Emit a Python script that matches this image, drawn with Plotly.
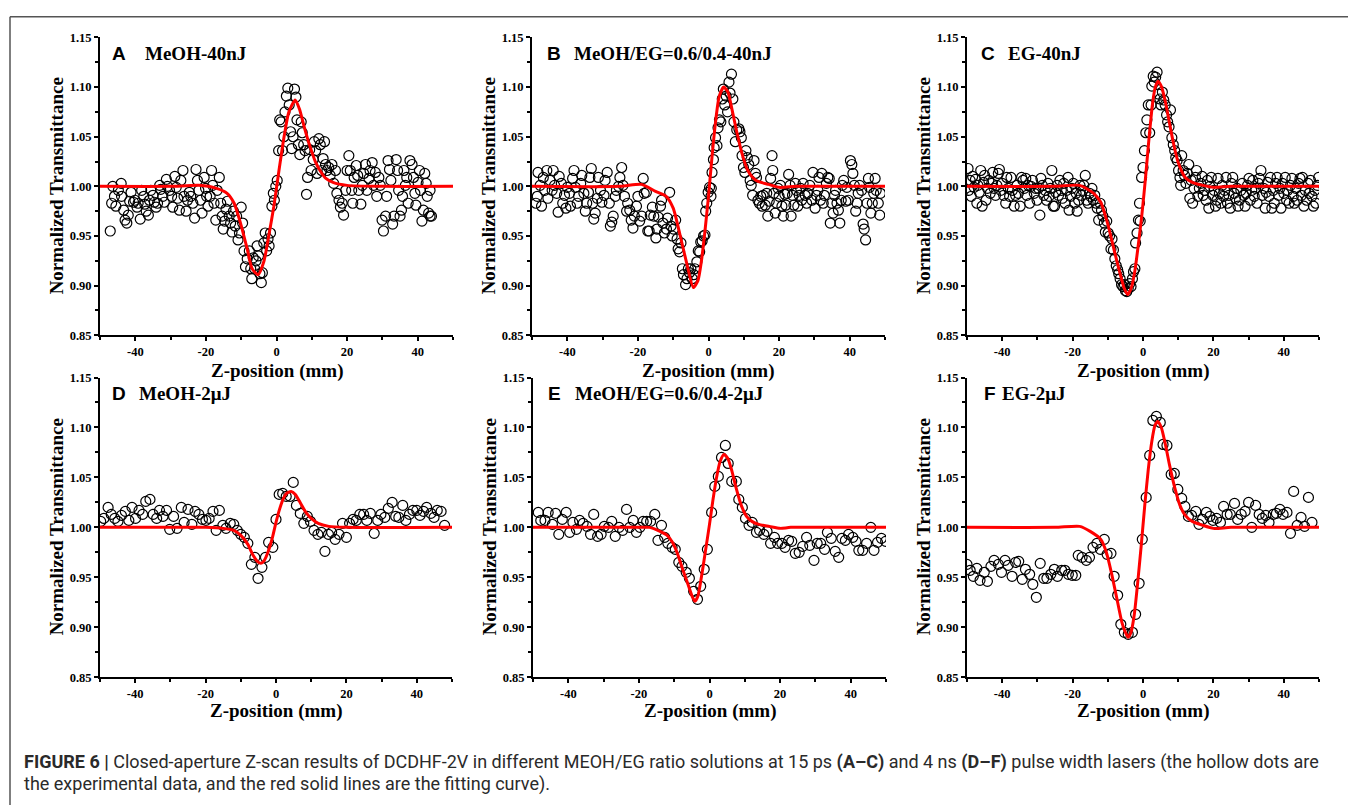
import plotly.graph_objects as go

W, H = 1348, 812

# ---------------- data ----------------
a_x = [-47.1,-46.7,-46.4,-45.9,-45.5,-44.8,-44.0,-43.9,-43.3,-42.9,-42.4,-42.0,-41.6,-41.2,-40.5,-40.1,-39.5,-39.2,-38.6,-38.2,
       -37.6,-37.3,-36.9,-36.3,-36.0,-35.6,-35.0,-34.6,-34.1,-33.7,-33.1,-32.8,-32.2,-31.8,-31.2,-30.9,-30.3,-29.7,-29.4,-28.8,
       -28.4,-28.0,-27.5,-27.1,-26.5,-26.2,-25.6,-25.2,-24.7,-24.3,-23.7,-23.2,-22.8,-22.4,-22.0,-21.5,-21.1,-20.5,-20.1,-19.8,
       -19.4,-18.8,-18.4,-18.1,-17.7,-17.2,-16.8,-16.2,-15.8,-15.4,-15.1,-14.7,-14.3,-13.9,-13.4,-13.0,-12.6,-12.2,-11.7,-11.3,
       -10.9,-10.5,-10.0,-9.6,-9.2,-8.8,-8.3,-7.7,-7.3,-7.0,-6.6,-6.2,-5.8,-5.5,-5.1,-4.7,-4.3,-4.0,-3.6,-3.2,
       -2.8,-2.4,-2.1,-1.7,-1.3,-0.9,-0.6,-0.2,0.2,0.6,0.9,1.3,1.7,2.1,2.4,2.8,3.2,3.6,4.0,4.3,
       4.7,5.1,5.5,5.8,6.2,6.6,7.0,7.3,7.7,8.1,8.5,8.8,9.4,9.8,10.4,10.7,11.1,11.5,12.0,12.4,
       12.8,13.2,13.6,13.9,14.3,14.8,15.2,15.7,16.2,16.7,17.1,17.7,18.1,18.6,19.0,19.6,20.0,20.5,20.9,21.3,
       21.6,22.0,22.6,23.0,23.3,23.9,24.3,24.7,25.2,25.6,26.2,26.5,27.1,27.5,28.0,28.4,29.0,29.4,29.9,30.3,
       30.9,31.2,31.6,32.0,32.4,32.9,33.3,33.9,34.3,34.6,35.0,35.4,35.7,36.1,36.5,36.9,37.3,37.8,38.4,38.8,
       39.2,39.5,40.1,40.5,40.8,41.2,41.6,42.0,42.4,42.7,43.1,43.5,43.9,43.5]
a_y = [0.955,0.983,1.000,0.990,0.980,0.996,1.003,0.990,0.976,0.966,0.963,0.971,0.985,0.994,0.984,0.986,0.979,0.983,0.967,0.996,
       0.990,0.982,0.975,0.971,0.986,0.996,0.991,0.984,0.979,0.983,1.001,0.997,0.990,0.984,1.007,1.000,0.996,0.990,0.979,1.010,
       0.999,0.988,0.976,1.006,1.016,0.990,0.975,0.986,0.994,0.990,0.983,0.968,1.017,1.006,0.996,0.986,0.973,1.009,0.998,0.990,
       0.980,0.990,1.016,1.001,0.983,0.966,0.996,1.009,0.983,0.970,0.957,0.965,0.977,0.985,0.970,0.963,0.954,0.975,0.960,0.970,
       0.946,0.953,0.979,0.963,0.935,0.919,0.927,0.935,0.917,0.907,0.928,0.917,0.925,0.940,0.930,0.912,0.903,0.913,0.943,0.953,
       0.935,0.947,0.940,0.953,0.980,0.993,0.986,1.000,1.006,1.036,1.067,1.065,1.036,1.050,1.075,1.091,1.099,1.082,1.055,1.038,
       1.050,1.098,1.090,1.067,1.042,1.032,1.065,1.054,1.042,1.036,0.992,1.009,1.037,1.016,1.027,1.045,1.036,1.013,1.048,1.042,
       1.016,1.028,1.045,1.022,1.016,1.019,1.011,1.022,1.003,1.016,0.993,0.986,0.979,0.983,0.971,0.996,1.016,1.031,1.016,0.996,
       0.983,1.009,1.021,1.011,0.996,0.982,1.001,1.013,1.022,0.996,1.008,1.016,1.024,1.001,1.014,0.990,1.009,1.001,0.966,0.955,
       0.970,0.990,1.026,1.017,1.006,0.962,0.970,1.027,1.016,0.996,0.970,0.976,0.990,1.016,1.001,1.009,0.983,1.026,1.022,1.009,
       0.993,0.981,1.004,1.016,0.996,0.965,0.976,1.013,1.003,0.990,0.973,0.970,0.970,0.996]
a_fit_x = [-50,-30,-22,-17,-14,-12,-10.2,-8.3,-6.9,-5.2,-3.6,-2.2,-0.75,0.7,2.1,3.5,5.3,6.5,8,9.6,11,12.5,14,16,20,30,50]
a_fit_y = [1.0,1.0,1.001,0.998,0.993,0.983,0.963,0.937,0.917,0.911,0.924,0.950,0.980,1.016,1.049,1.075,1.087,1.078,1.058,1.039,1.025,1.015,1.008,1.004,1.001,1.0,1.0]

b_x = [-48.9,-48.5,-48.3,-47.7,-47.3,-46.8,-46.4,-45.8,-45.5,-44.9,-44.3,-44.0,-43.6,-43.0,-42.6,-42.3,-41.7,-41.3,-40.8,-40.4,
       -40.0,-39.4,-39.1,-38.5,-38.1,-37.7,-37.2,-36.8,-36.2,-35.9,-35.3,-34.9,-34.5,-34.0,-33.6,-33.2,-32.8,-32.5,-32.1,-31.5,
       -31.2,-30.6,-30.2,-29.6,-29.3,-28.7,-28.1,-27.8,-27.4,-27.0,-26.4,-26.1,-25.5,-25.1,-24.6,-24.2,-23.8,-23.2,-22.9,-22.3,
       -21.9,-21.4,-21.0,-20.4,-20.0,-19.5,-18.9,-18.5,-18.2,-17.6,-17.2,-16.8,-16.5,-15.9,-15.5,-14.9,-14.6,-14.2,-13.6,-13.3,
       -12.9,-12.5,-11.9,-11.6,-11.0,-10.6,-10.3,-9.9,-9.3,-8.9,-8.6,-8.2,-7.8,-7.4,-7.1,-6.5,-6.1,-5.7,-5.4,-5.0,
       -4.6,-4.2,-3.9,-3.3,-2.9,-2.5,-2.2,-1.8,-1.4,-1.0,-0.8,-0.5,-0.1,0.3,0.7,0.8,1.0,1.4,1.6,2.0,
       2.4,2.7,3.1,3.5,3.9,4.2,4.6,5.0,5.4,5.8,6.1,6.5,6.9,7.2,7.6,8.0,8.6,8.9,9.3,9.5,
       9.9,10.3,10.6,11.0,11.4,11.8,12.1,12.5,12.9,13.3,13.6,14.0,14.4,14.8,15.2,15.5,16.1,16.5,16.8,17.2,
       17.6,18.0,18.2,18.5,18.9,19.3,19.7,20.0,20.4,20.8,21.2,21.6,21.9,22.3,22.7,23.1,23.4,23.8,24.2,24.6,
       24.9,25.3,25.7,26.1,26.4,26.8,27.4,27.8,28.1,28.7,29.3,29.6,30.2,30.6,31.0,31.3,31.7,32.1,32.5,32.8,
       33.4,33.8,34.2,34.5,34.9,35.3,35.7,36.0,36.4,36.8,37.2,37.6,37.9,38.3,38.9,39.2,39.6,40.2,40.6,40.9,
       41.3,41.7,42.1,42.4,42.8,43.4,43.8,44.1,44.5,44.9,45.3,45.6,46.0,46.4,46.8,47.2,47.5,48.1,48.5,48.7]
b_y = [0.983,0.990,1.014,1.001,0.980,1.009,0.996,1.016,0.988,1.006,0.996,1.016,1.001,0.993,0.974,1.010,1.003,0.983,0.991,0.978,
       0.999,0.993,0.980,1.008,1.016,0.999,0.983,0.990,1.003,1.011,0.993,0.975,0.983,0.994,1.009,1.018,0.983,0.967,0.973,0.988,
       1.009,0.996,0.984,0.991,1.006,1.014,0.983,0.960,0.964,0.970,0.990,0.996,1.000,1.009,1.019,1.001,0.990,0.975,0.983,0.976,
       0.966,0.958,0.970,0.980,0.990,0.965,0.970,1.008,0.993,0.994,0.955,0.955,0.971,0.979,0.970,0.948,0.957,0.969,0.980,0.986,
       0.963,0.953,0.957,0.968,0.994,0.960,0.950,0.957,0.966,0.947,0.937,0.934,0.943,0.917,0.911,0.901,0.907,0.917,0.913,0.917,
       0.907,0.911,0.917,0.924,0.935,0.934,0.944,0.945,0.950,0.951,0.975,0.983,0.994,0.999,0.990,0.998,1.014,1.027,1.039,1.049,
       1.041,1.059,1.067,1.065,1.088,1.098,1.082,1.091,1.075,1.105,1.094,1.113,1.088,1.065,1.045,1.057,1.058,1.055,1.049,1.031,
       1.019,1.014,1.036,1.029,1.022,1.006,1.001,0.991,1.026,1.013,1.009,0.986,0.983,0.990,0.980,0.991,0.981,0.993,0.970,0.985,
       1.008,1.031,1.016,0.993,0.973,0.983,0.998,0.990,1.001,0.980,0.970,0.992,0.981,0.993,1.012,1.001,0.970,0.991,0.981,1.003,
       0.996,0.980,0.991,0.998,0.986,1.003,0.991,0.983,0.993,1.001,0.986,1.014,0.978,0.991,0.996,1.009,0.986,1.013,0.983,0.991,
       1.003,1.009,1.008,0.963,0.983,0.973,0.991,0.996,0.983,0.976,0.963,0.986,1.001,1.006,0.985,0.999,0.986,1.026,1.022,1.013,
       1.001,0.975,0.983,0.993,1.001,0.996,0.962,0.957,0.946,0.983,1.008,0.999,0.973,0.983,0.993,1.008,0.996,0.983,0.971,0.993]
b_fit_x = [-50,-25,-19,-15,-12,-10,-8,-6,-4.3,-3,-2,-1,0,1,2,3,4.3,5.5,6.5,8,9.5,11,12.5,14,17,20,25,50]
b_fit_y = [1.0,1.0,1.002,0.995,0.990,0.978,0.950,0.920,0.898,0.905,0.925,0.955,0.990,1.030,1.065,1.090,1.100,1.095,1.080,1.055,1.033,1.017,1.009,1.005,1.002,0.999,1.0,1.0]

c_x = [-49.7,-49.5,-49.1,-48.8,-48.4,-48.0,-47.6,-47.2,-46.9,-46.5,-46.1,-45.7,-45.3,-45.0,-44.6,-44.2,-43.8,-43.4,-43.0,-42.7,
       -42.3,-41.9,-41.5,-41.1,-40.8,-40.4,-40.0,-39.6,-39.0,-38.7,-38.3,-37.9,-37.5,-37.1,-36.6,-36.2,-35.8,-35.4,-34.9,-34.5,
       -34.1,-33.7,-33.3,-33.0,-32.6,-32.2,-31.8,-31.4,-30.9,-30.5,-30.1,-29.7,-29.3,-29.0,-28.6,-28.2,-27.8,-27.4,-27.0,-26.7,
       -26.3,-25.9,-25.5,-25.1,-24.8,-24.4,-24.0,-23.6,-23.2,-22.9,-22.5,-22.1,-21.7,-21.3,-21.0,-20.6,-20.2,-19.8,-19.4,-19.0,
       -18.7,-18.3,-17.9,-17.5,-17.1,-16.8,-16.4,-16.0,-15.6,-15.2,-14.9,-14.5,-14.1,-13.7,-13.3,-13.0,-12.6,-12.2,-11.8,-11.4,
       -11.0,-10.7,-10.3,-9.9,-9.5,-9.1,-8.8,-8.4,-8.0,-7.6,-7.2,-6.9,-6.5,-6.1,-5.7,-5.3,-5.0,-4.6,-4.2,-3.8,
       -3.4,-3.0,-2.7,-2.3,-2.1,-1.7,-1.3,-1.0,-0.8,-0.4,0.0,0.4,0.8,1.1,1.5,1.9,2.3,2.5,2.9,3.2,
       3.6,4.0,4.4,4.8,5.1,5.5,5.9,6.3,6.7,7.0,7.4,7.8,8.2,8.6,9.0,9.3,9.7,10.1,10.5,10.7,
       11.0,11.4,11.8,12.2,12.6,13.0,13.3,13.7,14.1,14.5,14.9,15.2,15.6,16.0,16.4,16.8,17.1,17.5,17.9,18.3,
       18.7,19.0,19.4,19.8,20.2,20.6,21.0,21.3,21.7,22.1,22.5,22.9,23.2,23.6,24.0,24.4,24.8,25.1,25.5,25.9,
       26.3,26.7,27.0,27.4,27.8,28.2,28.6,29.0,29.3,29.7,30.1,30.5,30.9,31.2,31.6,32.0,32.4,32.8,33.1,33.5,
       33.9,34.3,34.7,35.0,35.4,35.8,36.2,36.6,37.0,37.3,37.7,38.1,38.5,38.9,39.2,39.6,40.0,40.4,40.8,41.1,
       41.5,41.9,42.3,42.7,43.0,43.4,43.8,44.2,44.6,45.0,45.3,45.7,46.1,46.5,46.9,47.2,47.6,48.0,48.4,48.8,
       49.1,49.5,49.9]
c_y = [1.018,0.996,1.006,0.990,1.010,0.999,1.007,0.983,1.001,0.994,1.016,0.980,1.004,1.011,0.986,0.998,1.006,0.993,1.003,1.014,
       0.998,0.991,1.001,1.013,1.017,0.996,1.003,0.991,0.983,1.009,0.998,0.990,1.009,0.996,0.980,0.991,1.001,0.993,0.980,1.009,
       1.006,0.998,1.008,0.991,1.001,0.983,1.000,1.006,0.993,0.998,0.986,0.998,0.971,1.008,1.001,0.991,0.996,0.986,1.003,0.990,
       0.998,1.016,0.980,0.980,0.994,1.001,0.991,1.006,0.996,0.988,1.003,0.983,0.996,1.009,0.976,0.990,0.998,1.003,0.983,0.993,
       0.975,0.986,1.001,0.991,0.996,1.001,1.011,0.986,0.983,0.993,0.990,0.998,0.986,0.991,0.983,0.978,0.966,0.983,0.976,0.970,
       0.963,0.954,0.965,0.953,0.950,0.937,0.947,0.936,0.927,0.920,0.916,0.912,0.907,0.901,0.899,0.901,0.895,0.894,0.897,0.902,
       0.899,0.907,0.914,0.917,0.943,0.953,0.966,0.983,0.965,1.009,1.019,1.036,1.054,1.067,1.082,1.054,1.082,1.101,1.111,1.105,
       1.110,1.115,1.093,1.088,1.082,1.095,1.087,1.082,1.072,1.065,1.060,1.077,1.049,1.042,1.036,1.029,1.026,1.016,1.009,1.001,
       1.031,1.016,1.011,1.003,1.013,1.022,0.988,1.006,0.983,0.998,1.009,1.016,0.990,0.998,1.003,1.010,0.991,0.996,0.986,1.006,
       0.978,1.000,1.009,0.991,0.996,0.980,0.986,1.008,0.993,0.983,1.001,0.990,0.996,1.009,0.983,0.991,0.978,1.003,1.009,0.993,
       0.988,0.998,0.980,0.986,0.996,1.003,0.991,0.980,0.993,1.001,1.008,0.986,0.996,1.006,0.990,0.998,0.983,1.003,1.008,1.016,
       0.991,0.998,0.978,0.994,1.004,0.990,1.009,0.978,0.996,0.983,1.003,1.009,0.991,0.998,0.978,1.003,0.993,1.009,0.986,0.996,
       0.983,1.001,1.008,0.990,0.983,0.998,0.986,1.003,1.008,0.991,1.009,0.980,0.996,0.986,1.003,0.993,1.006,0.990,0.980,0.996,
       0.983,1.001,1.009]
c_fit_x = [-50,-25,-18,-14,-12,-10,-8,-6.5,-5.3,-4.3,-3.3,-2.3,-1.3,-0.3,0.7,1.7,2.7,3.5,4.3,5.3,6.3,7.3,8.5,10,12,14,17,20,25,50]
c_fit_y = [1.0,1.0,1.001,0.993,0.984,0.962,0.933,0.912,0.897,0.891,0.898,0.915,0.942,0.972,1.008,1.048,1.083,1.100,1.106,1.100,1.086,1.068,1.046,1.024,1.009,1.004,1.001,0.999,1.0,1.0]

d_x = [-49.8,-48.9,-47.7,-46.8,-45.8,-44.9,-43.9,-42.8,-41.8,-40.9,-39.9,-38.9,-37.9,-37.0,-35.8,-34.9,-33.9,-33.1,-32.1,-31.1,
       -30.2,-29.1,-28.1,-26.9,-26.1,-25.0,-23.9,-23.0,-21.9,-20.9,-19.9,-19.0,-17.9,-17.0,-16.1,-15.1,-14.2,-13.0,-12.0,-11.0,
       -10.0,-9.0,-8.0,-7.0,-6.0,-5.1,-4.0,-3.0,-2.1,-0.9,0.0,0.9,1.9,2.9,4.0,4.9,5.8,6.9,7.9,8.9,
       9.8,10.8,11.9,12.9,13.9,14.9,15.8,16.8,17.9,18.9,20.0,20.9,21.9,22.8,23.8,24.9,25.8,26.8,27.9,28.9,
       29.8,30.9,31.9,33.0,34.0,34.9,36.0,36.9,37.9,38.9,40.0,40.9,41.9,42.8,44.0,44.9,45.8,46.9,47.9]
d_y = [1.006,1.009,1.020,1.013,1.009,1.006,1.012,1.016,1.007,1.020,1.009,1.017,1.013,1.026,1.028,1.013,1.009,1.017,1.011,1.017,
       0.998,1.011,0.999,1.020,1.005,1.018,1.003,1.016,1.013,1.008,1.007,1.009,1.016,0.997,1.017,1.002,0.999,1.004,1.003,0.997,
       0.993,0.990,0.984,0.963,0.970,0.949,0.960,0.970,0.985,0.980,1.008,1.033,1.034,1.031,1.031,1.045,1.022,1.014,1.004,1.011,
       1.006,0.997,0.993,0.995,0.976,0.993,0.995,0.988,0.993,1.004,0.990,1.004,1.008,1.007,1.013,1.013,1.007,1.014,0.994,1.007,
       1.013,1.010,1.019,1.025,1.011,1.010,1.022,1.007,1.013,1.017,1.017,1.012,1.016,1.020,1.014,1.010,1.017,1.016,1.002]
d_fit_x = [-50,-20,-15,-12,-10,-8,-6.5,-5.3,-4.3,-3.3,-2.2,-1,0,1,2,3,4.3,5.5,7,8.5,10,12,15,20,50]
d_fit_y = [1.0,1.0,0.999,0.997,0.992,0.983,0.972,0.966,0.964,0.967,0.976,0.990,1.005,1.018,1.028,1.034,1.036,1.033,1.024,1.015,1.009,1.004,1.001,1.0,1.0]

e_x = [-48.5,-47.8,-46.6,-45.7,-44.5,-43.6,-42.7,-41.7,-40.6,-39.6,-38.7,-37.7,-36.8,-35.8,-34.7,-33.7,-32.8,-31.7,-30.7,-29.8,
       -28.6,-27.7,-26.7,-25.6,-24.6,-23.5,-22.6,-21.6,-20.7,-19.7,-18.8,-17.8,-16.7,-15.5,-14.6,-13.6,-12.7,-11.8,-10.6,-9.7,
       -8.7,-7.8,-6.6,-5.7,-4.5,-3.4,-2.5,-1.5,-0.6,0.6,1.5,2.5,3.4,4.5,5.3,6.3,7.6,8.3,9.3,10.2,
       11.2,12.1,13.3,14.2,15.4,16.3,17.3,18.4,19.3,20.5,21.4,22.4,23.3,24.3,25.4,26.4,27.5,28.4,29.6,30.5,
       31.5,32.6,33.4,34.5,35.6,36.6,37.5,38.5,39.4,40.6,41.5,42.3,43.4,44.5,45.7,46.6,47.6,48.7,49.9]
e_y = [1.015,1.007,1.007,1.015,1.003,1.014,0.993,1.008,1.015,0.995,1.005,0.998,1.007,1.004,1.001,0.993,1.013,0.991,0.993,1.001,
       1.000,1.006,0.991,1.000,0.997,1.018,1.000,1.007,0.995,1.000,1.006,1.006,1.006,1.013,0.987,1.002,0.990,0.984,0.980,0.978,
       0.965,0.961,0.955,0.949,0.936,0.928,0.941,0.958,0.978,1.015,1.041,1.051,1.070,1.082,1.064,1.046,1.046,1.028,1.020,1.009,
       1.002,1.005,0.995,0.997,0.993,0.996,0.984,0.990,0.984,0.984,0.980,0.987,0.986,0.974,0.975,0.981,0.990,0.982,0.967,0.984,
       0.984,0.978,0.995,0.989,0.976,0.970,0.989,0.987,0.993,0.990,0.986,0.977,0.977,0.984,1.000,0.977,0.985,0.989,0.986]
e_fit_x = [-50,-20,-17,-14,-12,-10.5,-9,-7.5,-6,-4.8,-4.1,-3.3,-2.3,-1.2,0,1,2,3,4.1,5.2,6.3,7.5,9,10.5,12,14,17,20,23,50]
e_fit_y = [1.0,1.0,1.0,0.996,0.992,0.985,0.973,0.957,0.942,0.930,0.926,0.931,0.950,0.975,1.003,1.028,1.050,1.066,1.073,1.069,1.057,1.040,1.022,1.011,1.006,1.003,1.001,0.999,1.0,1.0]

f_x = [-50.0,-49.1,-48.2,-47.2,-46.3,-45.1,-44.2,-43.2,-42.3,-41.1,-40.2,-39.2,-38.3,-37.2,-36.2,-35.3,-34.3,-33.4,-32.2,-31.3,
       -30.3,-29.2,-28.2,-27.3,-26.2,-25.2,-24.3,-23.1,-22.2,-21.2,-20.1,-19.1,-18.4,-17.3,-16.1,-15.2,-14.2,-13.1,-12.1,-11.0,
       -10.2,-9.1,-8.2,-7.2,-6.3,-5.3,-4.2,-3.0,-2.1,-1.1,-0.2,0.9,1.9,2.8,3.8,4.9,5.7,6.8,8.0,8.9,
       9.9,11.0,11.9,12.9,13.8,15.0,15.9,16.9,18.0,19.0,19.9,20.9,22.0,22.9,23.9,24.8,26.0,26.9,27.9,29.0,
       30.0,30.9,32.0,33.0,33.9,34.9,35.8,37.0,37.9,38.9,39.8,40.9,41.9,42.8,43.8,44.9,45.9,47.0,48.0]
f_y = [0.963,0.957,0.951,0.959,0.947,0.955,0.946,0.961,0.967,0.963,0.955,0.967,0.962,0.951,0.965,0.966,0.948,0.958,0.953,0.943,
       0.930,0.964,0.949,0.949,0.953,0.958,0.951,0.957,0.957,0.953,0.952,0.952,0.972,0.970,0.967,0.970,0.980,0.984,0.978,0.988,
       0.973,0.974,0.951,0.932,0.903,0.895,0.893,0.895,0.913,0.944,0.988,1.030,1.072,1.107,1.111,1.105,1.083,1.082,1.053,1.054,
       1.038,1.029,1.021,1.011,1.012,1.016,1.003,1.008,1.015,1.011,1.007,1.009,1.005,1.021,1.013,1.013,1.024,1.008,1.013,1.016,
       1.025,1.000,1.022,1.013,1.009,1.012,1.005,1.013,1.014,1.018,1.013,1.015,0.994,1.036,1.002,1.010,1.001,1.030,1.005]
f_fit_x = [-50,-25,-18,-15,-12,-10.5,-9,-7.5,-6,-5,-4.2,-3.4,-2.5,-1.5,-0.5,0.5,1.5,2.5,3.4,4.2,5.2,6.3,7.5,9,10.5,12,14,17,20,25,50]
f_fit_y = [1.0,1.0,1.001,0.996,0.988,0.976,0.955,0.930,0.905,0.895,0.890,0.895,0.912,0.945,0.982,1.022,1.058,1.086,1.102,1.106,1.100,1.084,1.063,1.040,1.022,1.012,1.006,1.002,0.999,1.0,1.0]

panel_letters = ["A", "B", "C", "D", "E", "F"]
panel_titles = ["MeOH-40nJ", "MeOH/EG=0.6/0.4-40nJ", "EG-40nJ",
                "MeOH-2μJ", "MeOH/EG=0.6/0.4-2μJ", "EG-2μJ"]
x_ticks = [-40, -20, 0, 20, 40]
y_ticks = [0.85, 0.90, 0.95, 1.00, 1.05, 1.10, 1.15]
x_title = "Z-position (mm)"
y_title = "Normalized Transmittance"

series = [(a_x, a_y, a_fit_x, a_fit_y), (b_x, b_y, b_fit_x, b_fit_y), (c_x, c_y, c_fit_x, c_fit_y),
          (d_x, d_y, d_fit_x, d_fit_y), (e_x, e_y, e_fit_x, e_fit_y), (f_x, f_y, f_fit_x, f_fit_y)]

# ---------------- layout geometry (page pixels) ----------------
boxes = [(100, 453, 31, 334), (532, 885, 31, 334), (967, 1319, 31, 334),
         (100, 452, 377, 682), (533, 886, 377, 682), (967, 1319, 377, 682)]
letter_dx = [10, 13, 12, 10, 13, 15]
title_dx = [43, 40, 39, 37, 40, 33]
xtitle_dy = [36, 36, 36, 34, 34, 34]


def fx(p):
    return p / W


def fy(p):
    return 1 - p / H


SERIF = "Liberation Serif, Times New Roman, serif"
SANS = "Liberation Sans, Arial, sans-serif"

fig = go.Figure()
annotations = []
layout_axes = {}

for i, ((sx, sy, fxs, fys), (l, r, t, b)) in enumerate(zip(series, boxes)):
    n = "" if i == 0 else str(i + 1)
    xa, ya = "x" + n, "y" + n
    fig.add_trace(go.Scatter(
        x=sx, y=sy, mode="markers", xaxis=xa, yaxis=ya, showlegend=False, hoverinfo="skip",
        marker=dict(symbol="circle-open", size=10, color="black", line=dict(width=1.2, color="black"))))
    fig.add_trace(go.Scatter(
        x=fxs, y=fys, mode="lines", xaxis=xa, yaxis=ya, showlegend=False, hoverinfo="skip",
        line=dict(color="#ff0000", width=3, shape="spline", smoothing=0.6)))

    common = dict(showline=True, linecolor="black", linewidth=2, ticks="outside", ticklen=4,
                  tickwidth=1.5, tickcolor="black", showgrid=False, zeroline=False, mirror=False,
                  tickfont=dict(family=SERIF, size=12.5, color="black", weight="bold"))
    layout_axes["xaxis" + n] = dict(common, domain=[fx(l), fx(r)], anchor=ya, range=[-50, 50],
                                    tickvals=x_ticks, ticktext=[str(v) for v in x_ticks],
                                    minor=dict(tick0=-50, dtick=10, ticklen=3, tickwidth=1.5,
                                               tickcolor="black", ticks="outside"))
    layout_axes["yaxis" + n] = dict(common, domain=[fy(b), fy(t)], anchor=xa, range=[0.85, 1.15],
                                    tickvals=y_ticks, ticktext=["%.2f" % v for v in y_ticks],
                                    minor=dict(tick0=0.85, dtick=0.025, ticklen=3, tickwidth=1.5,
                                               tickcolor="black", ticks="outside"))

    # axis titles
    annotations.append(dict(text="<b>%s</b>" % x_title, xref="paper", yref="paper",
                            x=fx((l + r) / 2), y=fy(b + xtitle_dy[i]), showarrow=False,
                            xanchor="center", yanchor="middle",
                            font=dict(family=SERIF, size=19, color="black")))
    annotations.append(dict(text="<b>%s</b>" % y_title, xref="paper", yref="paper",
                            x=fx(l - 44), y=fy((t + b) / 2), showarrow=False, textangle=-90,
                            xanchor="center", yanchor="middle",
                            font=dict(family=SERIF, size=19, color="black")))
    # panel labels
    annotations.append(dict(text="<b>%s</b>" % panel_letters[i], xref="paper", yref="paper",
                            x=fx(l + letter_dx[i]), y=fy(t + 16), showarrow=False,
                            xanchor="left", yanchor="middle",
                            font=dict(family=SANS, size=19, color="black")))
    annotations.append(dict(text="<b>%s</b>" % panel_titles[i], xref="paper", yref="paper",
                            x=fx(l + title_dx[i]), y=fy(t + 16), showarrow=False,
                            xanchor="left", yanchor="middle",
                            font=dict(family=SERIF, size=19, color="black")))

# caption
CAP = "Roboto, Liberation Sans, Arial, sans-serif"
cap1 = ("<b>FIGURE 6 |</b> Closed-aperture Z-scan results of DCDHF-2V in different MEOH/EG ratio "
        "solutions at 15 ps <b>(A–C)</b> and 4 ns <b>(D–F)</b> pulse width lasers (the hollow dots are")
cap2 = "the experimental data, and the red solid lines are the fitting curve)."
annotations.append(dict(text=cap1, xref="paper", yref="paper", x=fx(22), y=fy(768), showarrow=False,
                        xanchor="left", yanchor="middle", font=dict(family=CAP, size=18, color="#2a2a2a")))
annotations.append(dict(text=cap2, xref="paper", yref="paper", x=fx(22), y=fy(791), showarrow=False,
                        xanchor="left", yanchor="middle", font=dict(family=CAP, size=18, color="#2a2a2a")))

shapes = [
    dict(type="line", xref="paper", yref="paper", x0=fx(10), x1=1, y0=fy(10), y1=fy(10),
         line=dict(color="#555", width=1.5)),
    dict(type="line", xref="paper", yref="paper", x0=fx(10), x1=fx(10), y0=fy(10), y1=0,
         line=dict(color="#555", width=1.5)),
]

fig.update_layout(width=W, height=H, margin=dict(l=0, r=0, t=0, b=0),
                  paper_bgcolor="white", plot_bgcolor="white", hovermode=False,
                  annotations=annotations, shapes=shapes, showlegend=False, **layout_axes)

# page without the default body margin so the figure fills the window exactly
fig.write_html("out.html", config={"displayModeBar": False},
               post_script="document.body.style.margin='0';")
